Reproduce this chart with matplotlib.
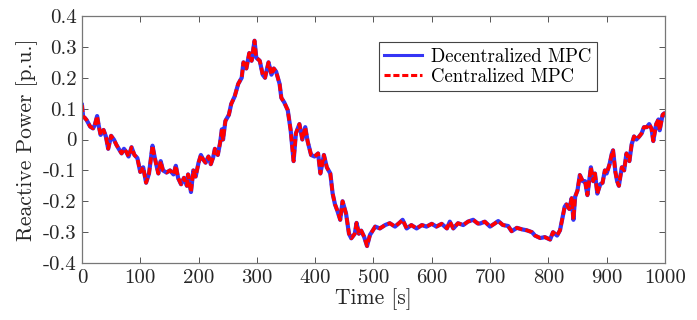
import matplotlib
matplotlib.use("Agg")
import matplotlib.pyplot as plt

# time [s] and reactive power [p.u.]
time_s = [0, 2, 5, 8, 14, 19, 22, 26, 29, 32, 37, 41, 45, 50, 55, 59, 64, 68,
          72, 76, 80, 85, 90, 95, 100, 105, 110, 115, 121, 125, 131, 135, 139,
          145, 151, 157, 161, 165, 170, 175, 180, 182, 187, 191, 195, 200, 204,
          208, 212, 217, 221, 225, 228, 233, 237, 240, 242, 246, 252, 256, 262,
          268, 274, 277, 282, 287, 291, 296, 299, 305, 310, 314, 320, 325, 329,
          333, 339, 342, 347, 353, 358, 363, 367, 373, 378, 383, 387, 393, 399,
          405, 409, 415, 420, 426, 430, 434, 438, 443, 447, 453, 458, 462, 468,
          471, 475, 479, 484, 489, 494, 503, 511, 520, 528, 537, 545, 550, 557,
          565, 574, 583, 591, 600, 608, 617, 626, 631, 637, 645, 654, 662, 671,
          679, 683, 691, 700, 708, 714, 722, 731, 737, 746, 755, 763, 772, 777,
          786, 794, 803, 808, 815, 820, 824, 828, 831, 836, 840, 843, 846, 850,
          854, 859, 863, 867, 873, 877, 880, 884, 889, 893, 897, 900, 905, 909,
          911, 915, 918, 921, 926, 930, 934, 939, 943, 947, 951, 956, 960, 964,
          969, 973, 977, 980, 985, 989, 991, 996, 999, 1000]
q_decentral = [0.112, 0.074, 0.07, 0.063, 0.042, 0.036, 0.047, 0.076, 0.042,
               0.015, 0.031, 0.01, -0.03, 0.012, -0.001, -0.017, -0.033, -0.045,
               -0.03, -0.04, -0.055, -0.025, -0.05, -0.06, -0.105, -0.09, -0.14,
               -0.11, -0.02, -0.06, -0.11, -0.07, -0.1, -0.107, -0.1, -0.113,
               -0.085, -0.125, -0.145, -0.124, -0.15, -0.113, -0.17, -0.1,
               -0.12, -0.075, -0.05, -0.065, -0.075, -0.055, -0.08, -0.058,
               -0.03, -0.05, -0.01, 0.033, 0.0, 0.06, 0.08, 0.115, 0.14, 0.18,
               0.2, 0.25, 0.23, 0.28, 0.255, 0.32, 0.265, 0.255, 0.21, 0.2, 0.25,
               0.21, 0.23, 0.22, 0.18, 0.135, 0.12, 0.095, 0.03, -0.07, 0.02,
               0.05, 0.0, 0.04, -0.005, -0.05, -0.055, -0.045, -0.11, -0.05,
               -0.09, -0.11, -0.175, -0.21, -0.23, -0.26, -0.2, -0.24, -0.305,
               -0.32, -0.305, -0.27, -0.305, -0.295, -0.315, -0.345, -0.309,
               -0.282, -0.288, -0.277, -0.271, -0.282, -0.269, -0.26, -0.288,
               -0.277, -0.288, -0.277, -0.282, -0.273, -0.282, -0.273, -0.288,
               -0.266, -0.288, -0.271, -0.277, -0.266, -0.26, -0.272, -0.272,
               -0.266, -0.282, -0.272, -0.264, -0.277, -0.28, -0.297, -0.286,
               -0.291, -0.294, -0.3, -0.311, -0.319, -0.316, -0.324, -0.3,
               -0.311, -0.294, -0.256, -0.218, -0.21, -0.225, -0.19, -0.26,
               -0.185, -0.165, -0.115, -0.135, -0.135, -0.18, -0.09, -0.135,
               -0.11, -0.175, -0.145, -0.14, -0.1, -0.11, -0.08, -0.045, -0.035,
               -0.105, -0.135, -0.15, -0.09, -0.1, -0.045, -0.07, -0.015, 0.01,
               0.0, 0.01, 0.02, 0.04, 0.04, 0.05, 0.035, -0.005, 0.05, 0.065,
               0.03, 0.08, 0.085, 0.08]
# the centralized solution lies on top of the decentralized one
q_central = list(q_decentral)

y_ticks = [-0.4, -0.3, -0.2, -0.1, 0, 0.1, 0.2, 0.3, 0.4]
y_labels = ["-0.4", "-0.3", "-0.2", "-0.1", "0", "0.1", "0.2", "0.3", "0.4"]
x_ticks = [0, 100, 200, 300, 400, 500, 600, 700, 800, 900, 1000]

plt.rcParams["font.family"] = "serif"
plt.rcParams["font.serif"] = ["cmr10", "DejaVu Serif"]
plt.rcParams["mathtext.fontset"] = "cm"
plt.rcParams["axes.unicode_minus"] = False

fig = plt.figure(figsize=(6.97, 3.2), dpi=100)
ax = fig.add_axes([0.1176, 0.178, 0.8364, 0.772])

ax.plot(time_s, q_decentral, color="#3535f5", lw=3.0, label="Decentralized MPC")
ax.plot(time_s, q_central, color="#ff0000", lw=2.6, ls=(0, (2.0, 0.9)),
        label="Centralized MPC")

ax.set_xlim(0, 1000)
ax.set_ylim(-0.4, 0.4)
ax.set_xticks(x_ticks)
ax.set_xticklabels([str(t) for t in x_ticks])
ax.set_yticks(y_ticks)
ax.set_yticklabels(y_labels)
ax.tick_params(direction="in", top=True, right=True, length=4, width=0.7,
               color="#555555", labelcolor="#262626", labelsize=15, pad=4)
for s in ax.spines.values():
    s.set_color("#777777")
    s.set_linewidth(0.9)

ax.set_xlabel("Time [s]", fontsize=15.5, color="#262626", labelpad=1)
ax.set_ylabel("Reactive Power [p.u.]", fontsize=15.5, color="#262626", labelpad=3)

leg = ax.legend(loc="upper right", bbox_to_anchor=(0.884, 0.893), fontsize=13.5,
                fancybox=False, edgecolor="#444444", framealpha=1,
                handlelength=2.0, borderpad=0.3, labelspacing=0.1,
                handletextpad=0.5, borderaxespad=0)
leg.get_frame().set_linewidth(0.8)
for line in leg.get_lines():
    line.set_linewidth(2.2)

fig.savefig("out.png", dpi=100)
